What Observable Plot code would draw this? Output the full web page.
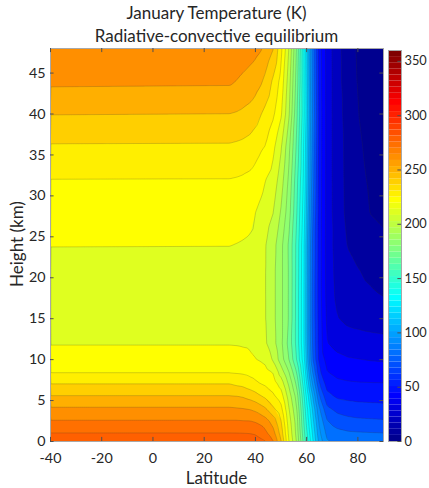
<!DOCTYPE html>
<html><head><meta charset="utf-8">
<script src="https://cdn.jsdelivr.net/npm/d3@7"></script>
<script src="https://cdn.jsdelivr.net/npm/@observablehq/plot@0.6"></script>
<style>
html,body{margin:0;padding:0;background:#fff;}
#wrap{position:relative;width:429px;height:488px;overflow:hidden;font-family:Lato,"Open Sans",sans-serif;color:#262626;}
.lbl{position:absolute;white-space:nowrap;line-height:1;}
.title{left:0;width:433px;text-align:center;font-size:17px;}
#main,#cbar{position:absolute;top:0;left:0;}
</style></head><body>
<div id="wrap">
  <div id="main"></div>
  <div id="cbar"></div>
  <div class="lbl title" style="top:4px">January Temperature (K)</div>
  <div class="lbl title" style="top:27px">Radiative-convective equilibrium</div>
  <div class="lbl" id="xl" style="left:0;width:433px;text-align:center;top:469px;font-size:17px">Latitude</div>
  <div class="lbl" id="yl" style="left:16px;top:244px;font-size:17px;transform:translate(-50%,-50%) rotate(-90deg);">Height (km)</div>
</div>
<script>
// grid columns (latitude, degrees) and rows (height, km)
const lats = [-40, 30, 33, 35, 38, 40, 42, 44, 47, 50, 53, 56, 59, 62, 65, 68, 72, 76, 80, 85, 90];
const heights = [0, 1, 2.5, 4, 5.5, 7, 8.5, 10, 12, 15, 18, 21, 24, 28, 32, 36, 40, 44, 48];
// temperature (K) read along each height row, one value per latitude above
const T_h0   = [286, 286, 286, 285.8, 285, 284, 282, 280.2, 270.2, 250.5, 220.5, 200.5, 165, 135, 106, 91, 88, 87, 86.5, 86, 86];
const T_h1   = [280.3, 280.3, 280.2, 280.1, 279.8, 279.1, 276.9, 272.3, 263.5, 246, 218, 198, 162, 132, 102, 87, 83, 81.5, 81, 80.6, 80.3];
const T_h2_5 = [270.6, 270.6, 270.6, 270.3, 270.1, 268.9, 266.8, 263.8, 255.4, 240.3, 215, 196, 158, 127, 97, 80.5, 75, 73, 72, 71.5, 71];
const T_h4   = [261.3, 261.3, 260.7, 260.3, 259.2, 257.4, 254.3, 250.8, 241.5, 233, 211, 192, 155, 122, 90.5, 72, 67, 65, 64, 63.5, 63];
const T_h5_5 = [250.7, 250.7, 250.2, 249.3, 246.7, 244.3, 240.9, 238, 232, 225, 206, 187, 150.5, 114, 80.5, 63, 58.5, 57.5, 56.8, 56.5, 56.3];
const T_h7   = [240.3, 240.3, 238.5, 237.7, 234.6, 232.3, 230.2, 228.5, 225, 216, 199, 179, 144, 103, 70.5, 56, 52.5, 51.5, 51, 50.8, 50.7];
const T_h8_5 = [229.2, 229.2, 228.7, 228.3, 226.8, 225.6, 224.4, 223, 219, 205, 190.5, 170.5, 138, 93, 62, 50.3, 47, 46, 45.5, 45, 44.6];
const T_h10  = [224, 224, 223.9, 223.3, 221.4, 220.3, 219.2, 217.5, 208.5, 195, 180.5, 160.8, 132.9, 84.3, 56.7, 46.5, 43, 41, 40.3, 39.5, 39];
const T_h12  = [219.5, 219.5, 219.3, 219, 218.6, 218, 215.5, 211, 203.5, 192.5, 177, 157.7, 130.4, 82, 55.5, 40.5, 36, 34.5, 34, 33.3, 32.7];
const T_h15  = [216, 216, 216, 215.8, 215.6, 215.3, 213, 210.2, 202.5, 192.5, 179.5, 157.5, 130.5, 80.5, 55, 38, 30.5, 28, 27, 26, 25.5];
const T_h18  = [215, 215, 215, 215, 214.9, 214.7, 212.5, 210.2, 202.5, 192.5, 179.5, 157.5, 130.5, 80.5, 54.5, 36.5, 27.5, 24, 22.5, 21, 19.5];
const T_h21  = [216.5, 216.5, 216.3, 216.2, 216, 215.7, 213, 210.2, 202.5, 192.5, 179.5, 158, 131, 81, 54.5, 36, 26.5, 22, 20.3, 18, 16];
const T_h24  = [220.3, 220.2, 219.7, 219.3, 218.5, 217.5, 214, 210.3, 203.7, 192.7, 179, 158.3, 131.4, 81.7, 54.7, 35.7, 25.5, 19.7, 16.5, 14, 12.2];
const T_h28  = [225, 224.9, 224.5, 224, 222.7, 220.1, 217.5, 214.7, 210.1, 199, 184.7, 161.7, 134.3, 85, 55, 36, 24, 18, 14, 9.7, 8];
const T_h32  = [229.9, 229.8, 229.3, 228.8, 227.8, 226.2, 223.8, 220.1, 215.8, 205, 188.6, 164.5, 137.1, 88.5, 55.4, 36, 23.8, 17.8, 12.4, 8.8, 7];
const T_h36  = [239, 238.8, 238.1, 237.5, 235.9, 233.8, 231.6, 229.5, 222.2, 211, 193.3, 169.1, 138.6, 90.5, 55.8, 36, 23.8, 17.5, 11.2, 8, 6];
const T_h40  = [250.3, 249.9, 249.1, 248.3, 246.7, 244.3, 240.6, 237.2, 231.5, 221.3, 202, 173, 142, 93, 56, 36, 23.6, 16.5, 10.2, 7.5, 5.5];
const T_h44  = [262, 261.5, 259.5, 258.1, 256.1, 254.4, 251.7, 247.1, 238.2, 226.7, 205.5, 177, 141, 91.7, 55.5, 36, 23.4, 15, 9.5, 7, 5];
const T_h48  = [268, 267.5, 266.8, 265.8, 264, 262.7, 261, 257.5, 250.2, 232.8, 210.3, 180.5, 140.3, 90.3, 55, 36, 23.4, 14, 9, 6.5, 4.5];
const rows = [T_h0, T_h1, T_h2_5, T_h4, T_h5_5, T_h7, T_h8_5, T_h10, T_h12, T_h15, T_h18, T_h21, T_h24, T_h28, T_h32, T_h36, T_h40, T_h44, T_h48];

const xTicks = [-40, -20, 0, 20, 40, 60, 80];
const yTicks = [0, 5, 10, 15, 20, 25, 30, 35, 40, 45];
const cTicks = [0, 50, 100, 150, 200, 250, 300, 350];
const levels = d3.range(0, 361, 10);   // contour interval 10 K
const cmin = 0, cmax = 360, nColors = 64;

// MATLAB-style jet colormap, 64 entries (r = 1..64)
function jet(r) {
  const t = r / nColors, c = v => Math.max(0, Math.min(1, v));
  const R = c(Math.min(4 * t - 1.5, -4 * t + 4.5));
  const G = c(Math.min(4 * t - 0.5, -4 * t + 3.5));
  const B = c(Math.min(4 * t + 0.5, -4 * t + 2.5));
  return d3.rgb(R * 255, G * 255, B * 255).formatHex();
}
const jetQ = t => jet(Math.min(nColors, Math.floor(t * nColors + 1e-9) + 1));

const grid = heights.flatMap((h, j) => lats.map((lat, i) => ({lat, h, T: rows[j][i]})));

const font = "Lato, 'Open Sans', sans-serif";
const main = Plot.plot({
  width: 429, height: 488,
  marginLeft: 50, marginRight: 46, marginTop: 48, marginBottom: 47,
  style: {fontFamily: font, fontSize: "14.3px", color: "#262626", background: "transparent"},
  x: {domain: [-40, 90]},
  y: {domain: [0, 48]},
  color: {type: "linear", domain: [cmin, cmax], interpolate: jetQ},
  marks: [
    Plot.contour(grid, {x: "lat", y: "h", fill: "T", interpolate: "barycentric", thresholds: levels}),
    Plot.contour(grid, {x: "lat", y: "h", value: "T", interpolate: "barycentric", thresholds: levels,
      fill: "none", stroke: "#303030", strokeOpacity: 0.35, strokeWidth: 0.6,
      x1: -41, x2: 91, y1: -0.6, y2: 48.6, clip: true}),
    Plot.frame({stroke: "#a8a8a8"}),
    Plot.ruleX(xTicks, {y1: 0, y2: 0.5, stroke: "#505050"}),
    Plot.ruleX(xTicks, {y1: 47.5, y2: 48, stroke: "#505050"}),
    Plot.ruleY(yTicks, {x1: -40, x2: -38.6, stroke: "#505050"}),
    Plot.ruleY(yTicks, {x1: 88.6, x2: 90, stroke: "#505050"}),
    Plot.axisX({ticks: xTicks, tickSize: 0, tickPadding: 11, label: null, tickFormat: d => d < 0 ? "-" + Math.abs(d) : String(d)}),
    Plot.axisY({ticks: yTicks, tickSize: 0, tickPadding: 5, label: null})
  ]
});
document.getElementById("main").append(main);

const steps = d3.range(nColors);
const cbar = Plot.plot({
  width: 429, height: 488,
  marginLeft: 388, marginRight: 28, marginTop: 50, marginBottom: 47,
  style: {fontFamily: font, fontSize: "12.8px", color: "#262626", background: "transparent"},
  x: {domain: [0, 1], axis: null},
  y: {domain: [cmin, cmax]},
  marks: [
    Plot.rect(steps, {x1: 0, x2: 1, y1: i => cmin + i * (cmax - cmin) / nColors, y2: i => cmin + (i + 1) * (cmax - cmin) / nColors, fill: i => jet(i + 1)}),
    Plot.frame({stroke: "#a8a8a8"}),
    Plot.ruleY(cTicks, {x1: 0.72, x2: 1, stroke: "#505050"}),
    Plot.axisY({anchor: "right", ticks: cTicks, tickSize: 0, tickPadding: 3, label: null})
  ]
});
document.getElementById("cbar").append(cbar);
</script>
</body></html>
